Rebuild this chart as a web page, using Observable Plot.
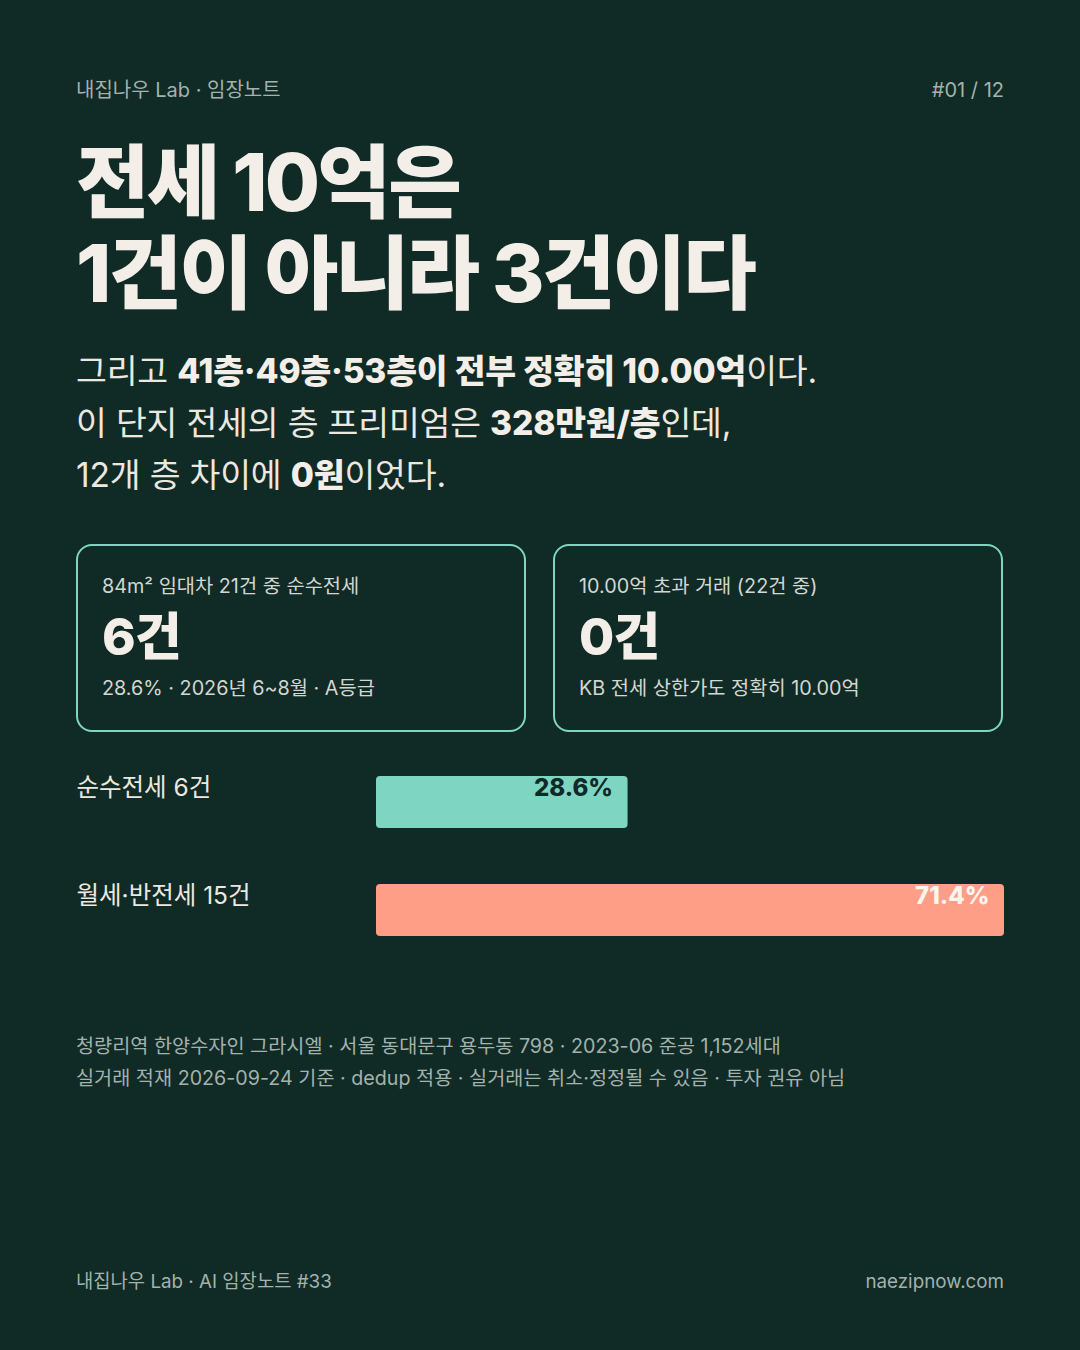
<!DOCTYPE html>
<html><head><meta charset="utf-8">
<script src="https://cdn.jsdelivr.net/npm/d3@7"></script>
<script src="https://cdn.jsdelivr.net/npm/@observablehq/plot@0.6"></script>
<style>
html,body{margin:0;padding:0;background:#102a26;}
body{width:1080px;height:1350px;position:relative;overflow:hidden;font-family:"Inter","Noto Sans CJK KR","Noto Sans",sans-serif;color:#f3efe8;}
.abs{position:absolute;white-space:nowrap;}
.muted{color:#a3b2ac;}
.hdr{font-size:20px;line-height:20px;}
.ftr{font-size:18.8px;line-height:20px;}
.title{left:76px;top:136px;font-size:80px;line-height:91px;font-weight:800;letter-spacing:-0.035em;}
.sub{left:76px;top:345px;font-size:33.5px;line-height:52px;letter-spacing:-0.005em;color:#ece8e0;}
.sub b{font-weight:800;color:#f3efe8;}
.card{position:absolute;top:544px;width:446px;height:184px;border:2px solid #7ed6c2;border-radius:16px;box-sizing:content-box;}
.card .l1{position:absolute;left:24px;top:29px;font-size:19.8px;line-height:22px;color:#d3d7d1;white-space:nowrap;}
.card .big{position:absolute;left:24px;top:59px;font-size:51px;line-height:64px;font-weight:800;letter-spacing:-0.02em;}
.card .l2{position:absolute;left:24px;top:131px;font-size:19.8px;line-height:22px;color:#d3d7d1;white-space:nowrap;}
.note{left:76px;font-size:19.7px;line-height:22px;color:#a3b2ac;}
#chart{position:absolute;left:0;top:760px;}
</style></head>
<body>
<div class="abs hdr muted" style="left:76px;top:80px;">내집나우 Lab · 임장노트</div>
<div class="abs hdr muted" style="right:76px;top:80px;">#01 / 12</div>
<div class="abs title">전세 10억은<br>1건이 아니라 3건이다</div>
<div class="abs sub">그리고 <b>41층·49층·53층이 전부 정확히 10.00억</b>이다.<br>이 단지 전세의 층 프리미엄은 <b>328만원/층</b>인데,<br>12개 층 차이에 <b>0원</b>이었다.</div>
<div class="card" style="left:76px;">
  <div class="l1">84m² 임대차 21건 중 순수전세</div>
  <div class="big">6건</div>
  <div class="l2">28.6% · 2026년 6~8월 · A등급</div>
</div>
<div class="card" style="left:553px;">
  <div class="l1">10.00억 초과 거래 (22건 중)</div>
  <div class="big">0건</div>
  <div class="l2">KB 전세 상한가도 정확히 10.00억</div>
</div>
<div id="chart"></div>
<div class="abs note" style="top:1035px;">청량리역 한양수자인 그라시엘 · 서울 동대문구 용두동 798 · 2023-06 준공 1,152세대</div>
<div class="abs note" style="top:1067px;">실거래 적재 2026-09-24 기준 · dedup 적용 · 실거래는 취소·정정될 수 있음 · 투자 권유 아님</div>
<div class="abs ftr muted" style="left:76px;top:1272px;">내집나우 Lab · AI 임장노트 #33</div>
<div class="abs ftr muted" style="right:76px;top:1272px;">naezipnow.com</div>
<script>
const categories = ["순수전세 6건", "월세·반전세 15건"];
const shares = [28.6, 71.4];
const valueLabels = ["28.6%", "71.4%"];
const barColors = ["#7ed6c2", "#ff9e87"];
const labelColors = ["#102a26", "#fdf6ee"];

const rows = categories.map((c, i) => ({cat: c, v: shares[i], lab: valueLabels[i], fill: barColors[i], tc: labelColors[i]}));

const chart = Plot.plot({
  width: 1080,
  height: 190,
  marginLeft: 376,
  marginRight: 76,
  marginTop: 0,
  marginBottom: 0,
  style: {background: "transparent", fontFamily: "Inter, 'Noto Sans CJK KR', sans-serif"},
  x: {domain: [0, 71.4], axis: null},
  y: {domain: categories, range: [16, 176], paddingInner: 0.519, paddingOuter: 0, axis: null},
  marks: [
    Plot.barX(rows, {x: "v", y: "cat", fill: d => d.fill, rx: 4}),
    Plot.text(rows, {x: "v", y: "cat", text: "lab", fill: d => d.tc, textAnchor: "end", dx: -15, dy: -14, fontSize: 24, fontWeight: 800}),
    Plot.text(rows, {x: 0, y: "cat", text: "cat", fill: "#ece8e0", textAnchor: "start", dx: -300, dy: -14, fontSize: 24.5})
  ]
});
document.getElementById("chart").appendChild(chart);
</script>
</body></html>
